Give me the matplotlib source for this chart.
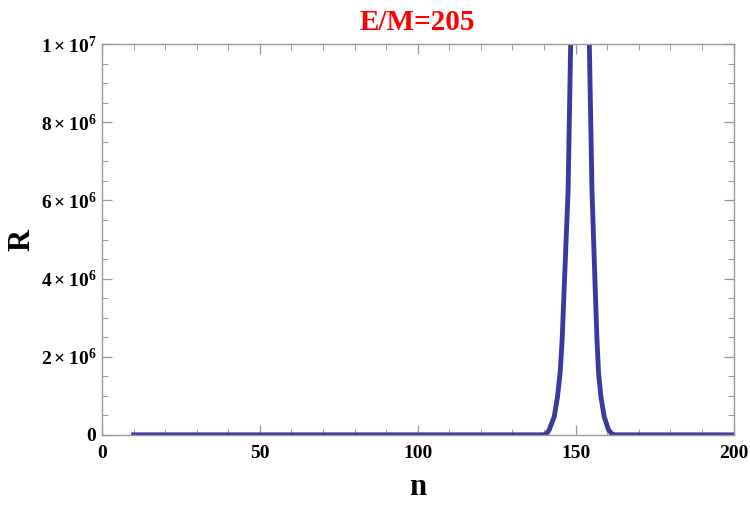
import numpy as np
import matplotlib
matplotlib.use("Agg")
import matplotlib.pyplot as plt
from matplotlib.ticker import MultipleLocator, FuncFormatter

###############################################################################
# data (R values beyond 1e7 are clipped by the frame)
###############################################################################

n_vals = [10, 130, 139.5, 140.3, 141.0, 141.64, 143.21, 144.25, 145.10,
          145.73, 146.36, 146.99, 147.62, 148.44, 149.0, 150.0, 151.5,
          153.0, 154.0, 154.33, 155.18, 155.69, 156.22, 156.76, 157.26,
          158.02, 159.06, 160.41, 161.2, 161.8, 162.5, 200]

R_vals = [0, 0, 0, 0.01e6, 0.05e6, 0.13e6, 0.46e6, 0.97e6, 1.59e6,
          2.43e6, 3.71e6, 4.99e6, 6.27e6, 10.05e6, 13.5e6, 19e6, 22e6,
          18e6, 11.6e6, 10.05e6, 6.27e6, 4.99e6, 3.71e6, 2.43e6, 1.59e6,
          0.97e6, 0.46e6, 0.13e6, 0.05e6, 0.01e6, 0, 0]

title_txt = 'E/M=205'
xlab = 'n'
ylab = 'R'

###############################################################################

plt.rcParams['font.family'] = 'Liberation Serif'
plt.rcParams['font.weight'] = 'bold'
plt.rcParams['mathtext.fontset'] = 'custom'
plt.rcParams['mathtext.rm'] = 'Liberation Serif:bold'
plt.rcParams['mathtext.bf'] = 'Liberation Serif:bold'
plt.rcParams['mathtext.it'] = 'Liberation Serif:bold'

frame_col = '#999999'

fig = plt.figure(figsize=(7.5, 5.08), dpi=100)
ax = fig.add_axes([0.136, 0.144, 0.842, 0.769])

ax.plot(n_vals, R_vals, color='#3a3a9c', lw=3.5, solid_joinstyle='round',
        clip_on=True)

ax.set_xlim(0, 200)
ax.set_ylim(0, 1e7)

ax.xaxis.set_major_locator(MultipleLocator(50))
ax.xaxis.set_minor_locator(MultipleLocator(10))
ax.yaxis.set_major_locator(MultipleLocator(2e6))
ax.yaxis.set_minor_locator(MultipleLocator(0.5e6))


def yfmt(v, pos):
    if v <= 0:
        return '0'
    e = int(np.floor(np.log10(v) + 1e-9))
    m = int(round(v / 10**e))
    return r'$%d\times10^{%d}$' % (m, e)


ax.yaxis.set_major_formatter(FuncFormatter(yfmt))
ax.xaxis.set_major_formatter(FuncFormatter(lambda v, p: '%d' % v))

for s in ax.spines.values():
    s.set_color(frame_col)
    s.set_linewidth(1.0)

ax.tick_params(which='both', direction='in', top=True, right=True,
               color=frame_col, labelsize=14)
ax.tick_params(axis='x', pad=7)
ax.tick_params(axis='y', pad=4)
ax.tick_params(which='major', length=7, width=0.9)
ax.tick_params(which='minor', length=4, width=0.7)

ax.set_xlabel(xlab, fontsize=22, fontweight='bold', labelpad=8)
ax.set_ylabel(ylab, fontsize=22, fontweight='bold', labelpad=3)
ax.set_title(title_txt, color='#ff0000', fontsize=21, fontweight='bold',
             pad=10)

fig.savefig('out.png', dpi=100)
